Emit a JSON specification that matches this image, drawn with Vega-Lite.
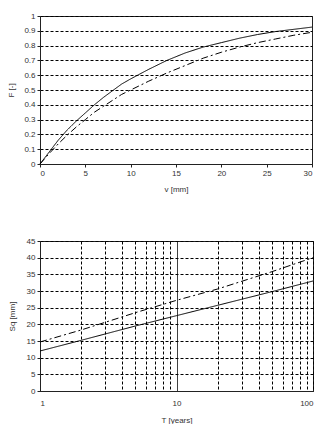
{
  "$schema": "https://vega.github.io/schema/vega-lite/v6.json",
  "padding": {"left": 7, "top": 11, "right": 6, "bottom": 2},
  "background": "white",
  "spacing": 42,
  "config": {
    "font": "Liberation Sans",
    "view": {"stroke": "#222", "strokeWidth": 1},
    "axis": {
      "labelFont": "Liberation Sans", "titleFont": "Liberation Sans",
      "labelFontSize": 8, "titleFontSize": 8, "titleFontWeight": "normal",
      "labelColor": "#333", "titleColor": "#333",
      "domainColor": "#222", "tickColor": "#222", "tickSize": 3,
      "gridColor": "#000", "gridDash": [3, 2], "gridWidth": 1, "gridOpacity": 1
    }
  },
  "datasets": {
    "top": [
      {"v": 0, "F": 0, "s": "a"}, {"v": 1, "F": 0.08, "s": "a"}, {"v": 2, "F": 0.16, "s": "a"}, {"v": 3, "F": 0.23, "s": "a"}, {"v": 4, "F": 0.29, "s": "a"}, {"v": 5, "F": 0.345, "s": "a"}, {"v": 6, "F": 0.40, "s": "a"}, {"v": 7, "F": 0.45, "s": "a"}, {"v": 8, "F": 0.495, "s": "a"}, {"v": 9, "F": 0.54, "s": "a"}, {"v": 10, "F": 0.575, "s": "a"}, {"v": 12, "F": 0.64, "s": "a"}, {"v": 14, "F": 0.70, "s": "a"}, {"v": 16, "F": 0.75, "s": "a"}, {"v": 18, "F": 0.79, "s": "a"}, {"v": 20, "F": 0.82, "s": "a"}, {"v": 22, "F": 0.85, "s": "a"}, {"v": 24, "F": 0.875, "s": "a"}, {"v": 26, "F": 0.895, "s": "a"}, {"v": 28, "F": 0.91, "s": "a"}, {"v": 30, "F": 0.925, "s": "a"},
      {"v": 0, "F": 0, "s": "b"}, {"v": 1, "F": 0.07, "s": "b"}, {"v": 2, "F": 0.135, "s": "b"}, {"v": 3, "F": 0.195, "s": "b"}, {"v": 4, "F": 0.25, "s": "b"}, {"v": 5, "F": 0.30, "s": "b"}, {"v": 6, "F": 0.35, "s": "b"}, {"v": 7, "F": 0.39, "s": "b"}, {"v": 8, "F": 0.43, "s": "b"}, {"v": 9, "F": 0.47, "s": "b"}, {"v": 10, "F": 0.50, "s": "b"}, {"v": 12, "F": 0.56, "s": "b"}, {"v": 14, "F": 0.615, "s": "b"}, {"v": 16, "F": 0.665, "s": "b"}, {"v": 18, "F": 0.715, "s": "b"}, {"v": 20, "F": 0.755, "s": "b"}, {"v": 22, "F": 0.79, "s": "b"}, {"v": 24, "F": 0.82, "s": "b"}, {"v": 26, "F": 0.845, "s": "b"}, {"v": 28, "F": 0.87, "s": "b"}, {"v": 30, "F": 0.89, "s": "b"}
    ],
    "bottom": [
      {"T": 1, "Sq": 12, "s": "a"}, {"T": 2, "Sq": 15.2, "s": "a"}, {"T": 5, "Sq": 19.5, "s": "a"}, {"T": 10, "Sq": 22.6, "s": "a"}, {"T": 20, "Sq": 25.7, "s": "a"}, {"T": 50, "Sq": 29.8, "s": "a"}, {"T": 100, "Sq": 33, "s": "a"},
      {"T": 1, "Sq": 14.7, "s": "b"}, {"T": 2, "Sq": 18.3, "s": "b"}, {"T": 5, "Sq": 23.5, "s": "b"}, {"T": 10, "Sq": 27.2, "s": "b"}, {"T": 20, "Sq": 30.6, "s": "b"}, {"T": 50, "Sq": 35.8, "s": "b"}, {"T": 100, "Sq": 40, "s": "b"}
    ]
  },
  "vconcat": [
    {
      "width": 272, "height": 148,
      "data": {"name": "top"},
      "mark": {"type": "line", "color": "#000", "strokeWidth": 1},
      "encoding": {
        "x": {"field": "v", "type": "quantitative", "title": "v [mm]",
              "scale": {"domain": [0, 30], "nice": false},
              "axis": {"values": [0, 5, 10, 15, 20, 25, 30], "grid": false, "titlePadding": 8}},
        "y": {"field": "F", "type": "quantitative", "title": "F [-]",
              "scale": {"domain": [0, 1], "nice": false},
              "axis": {"values": [0, 0.1, 0.2, 0.3, 0.4, 0.5, 0.6, 0.7, 0.8, 0.9, 1], "format": "~g", "titlePadding": 8}},
        "strokeDash": {"field": "s", "type": "nominal", "legend": null,
                       "scale": {"domain": ["a", "b"], "range": [[1, 0], [7, 3, 2, 3]]}}
      }
    },
    {
      "width": 273, "height": 150,
      "data": {"name": "bottom"},
      "mark": {"type": "line", "color": "#000", "strokeWidth": 1},
      "encoding": {
        "x": {"field": "T", "type": "quantitative", "title": "T [years]",
              "scale": {"type": "log", "domain": [1, 100], "nice": false},
              "axis": {"values": [1, 2, 3, 4, 5, 6, 7, 8, 9, 10, 20, 30, 40, 50, 60, 70, 80, 90, 100],
                       "labelExpr": "datum.value == 1 || datum.value == 10 || datum.value == 100 ? datum.value : ''",
                       "ticks": false, "labelPadding": 8, "titlePadding": 9,
                       "gridDash": {"condition": {"test": "datum.value == 10", "value": [1, 0]}, "value": [3, 2]}}},
        "y": {"field": "Sq", "type": "quantitative", "title": "Sq [mm]",
              "scale": {"domain": [0, 45], "nice": false},
              "axis": {"values": [0, 5, 10, 15, 20, 25, 30, 35, 40, 45], "titlePadding": 10}},
        "strokeDash": {"field": "s", "type": "nominal", "legend": null,
                       "scale": {"domain": ["a", "b"], "range": [[1, 0], [7, 3, 2, 3]]}}
      }
    }
  ]
}
